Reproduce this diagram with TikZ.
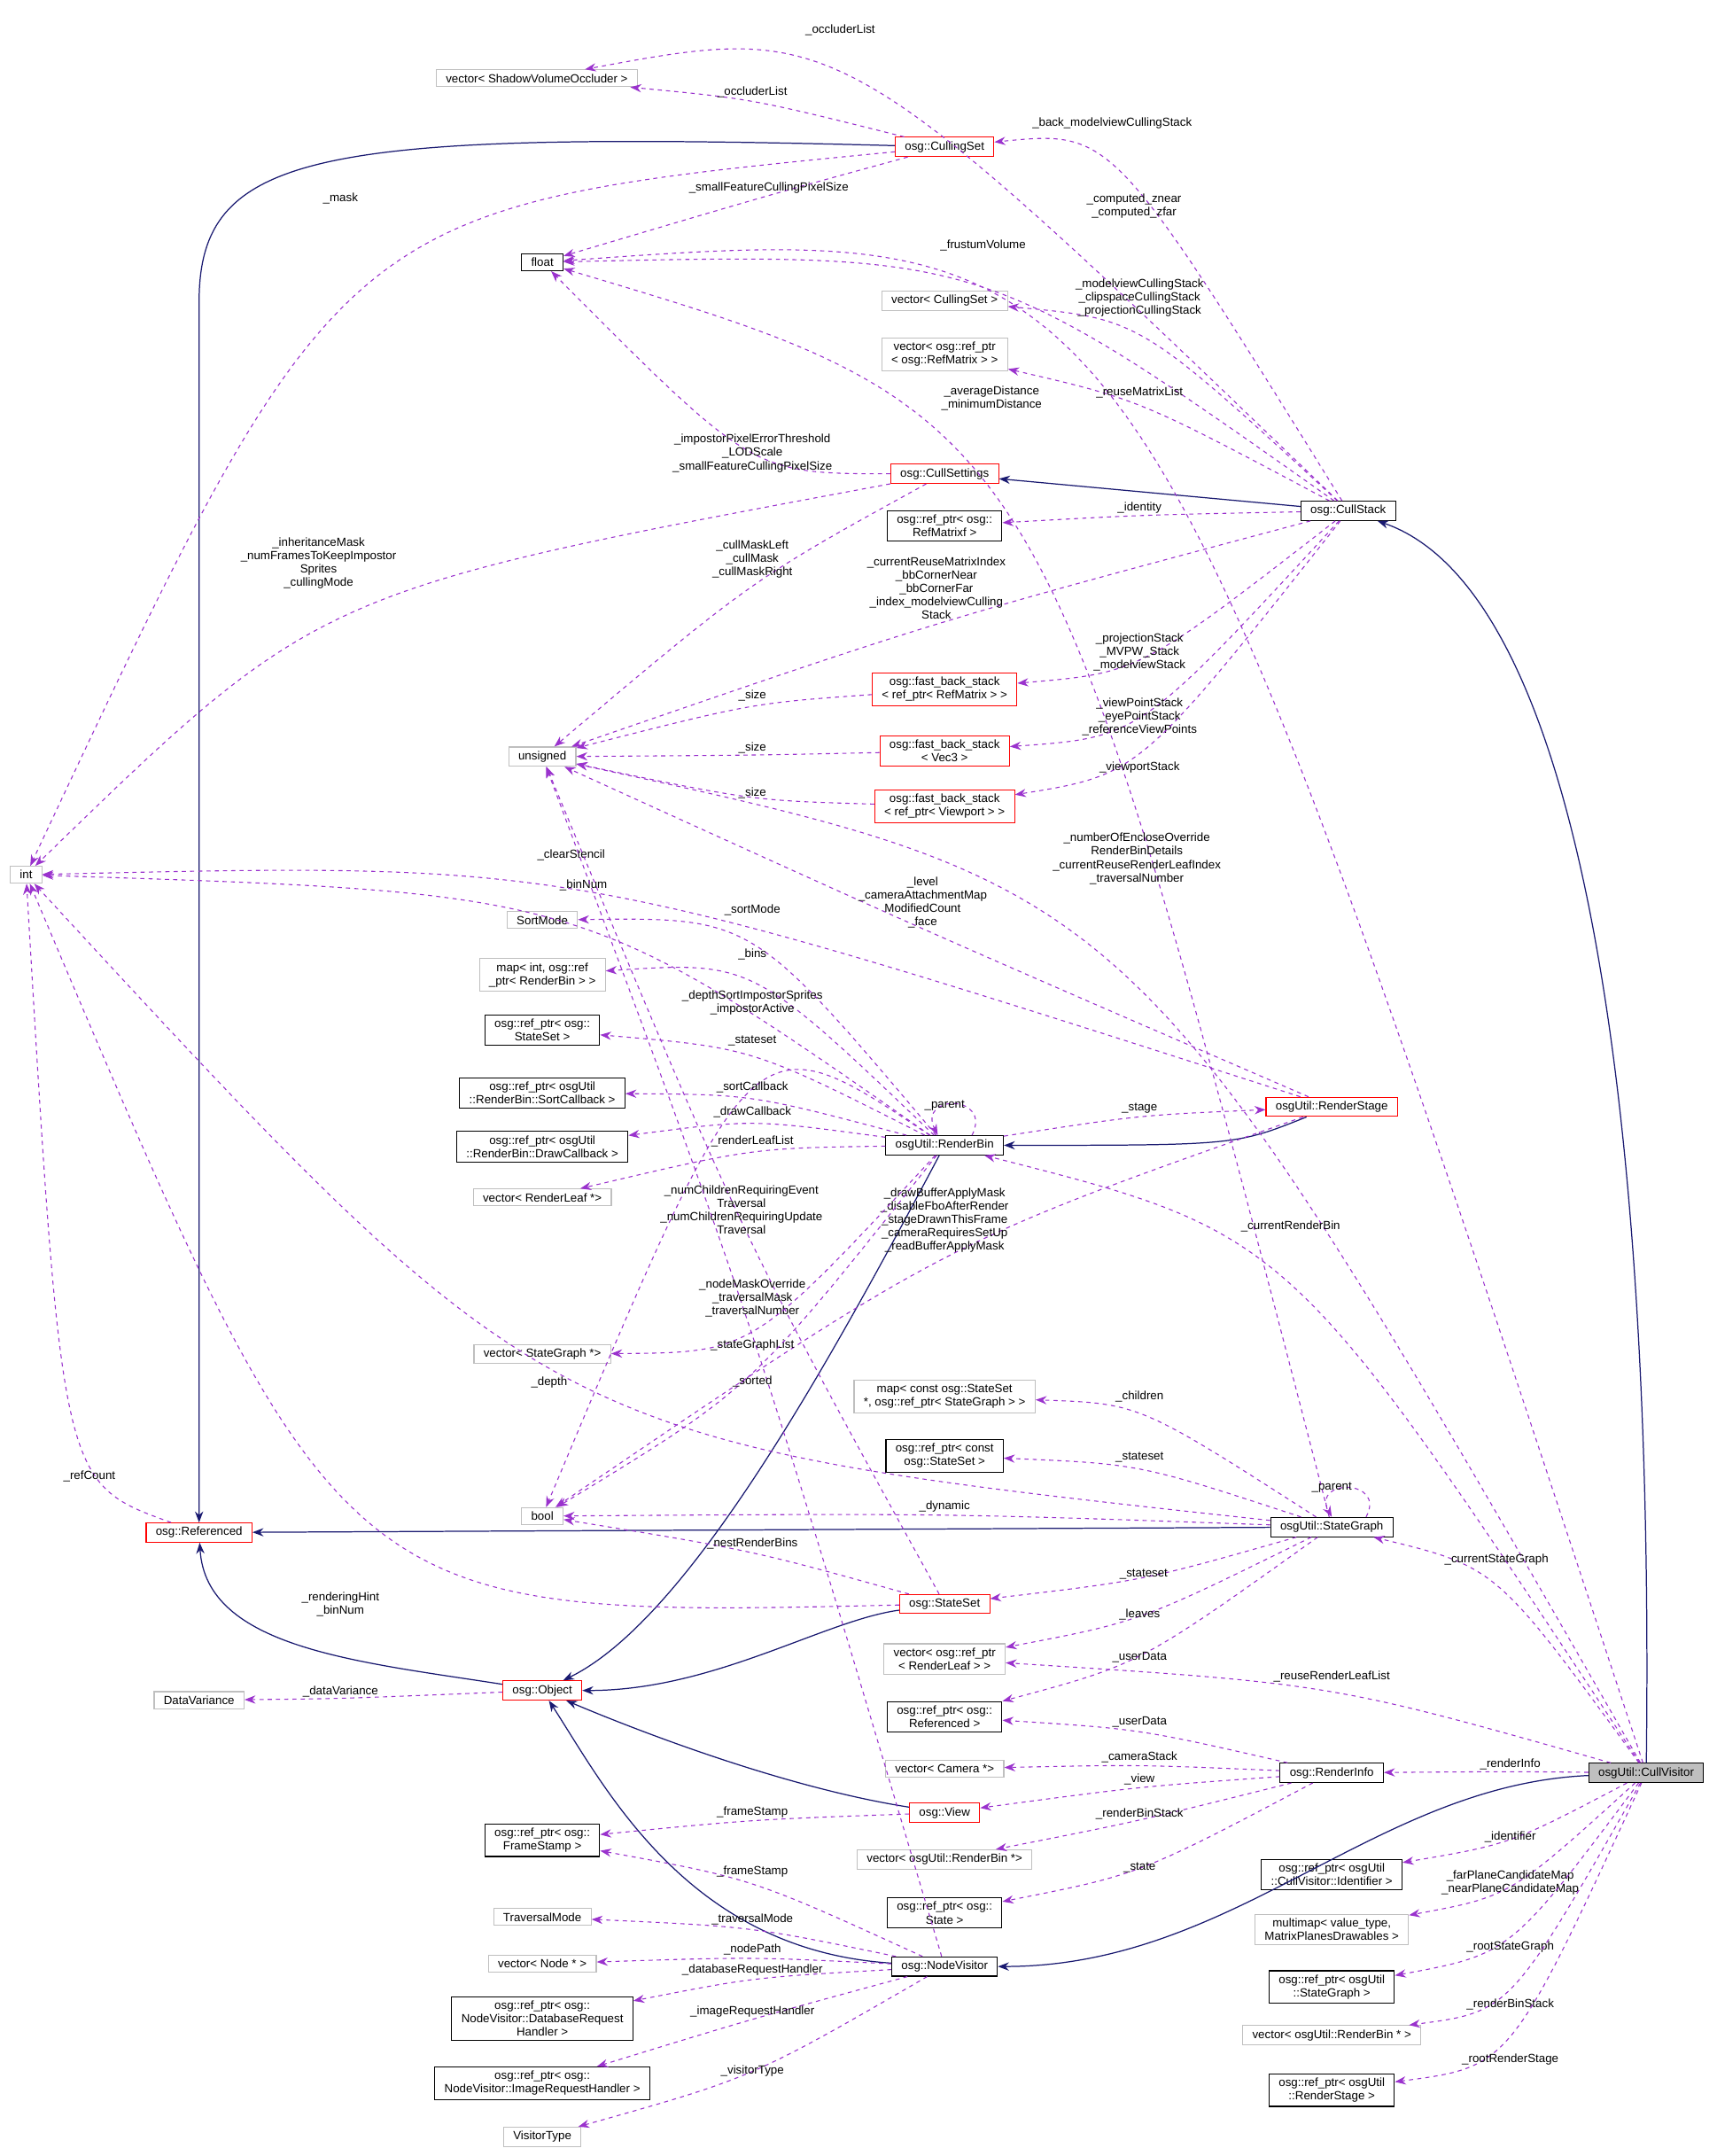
\documentclass[tikz,border=0pt]{standalone}
\usepackage{fontspec}
\setmainfont{Liberation Sans}
\usetikzlibrary{arrows.meta}
\definecolor{navy}{HTML}{191970}
\definecolor{usecol}{HTML}{9A32CD}
\tikzset{
  every node/.append style={font=\fontsize{8.6}{9.7}\selectfont},
  cls/.style={draw, line width=0.7pt, align=center, inner xsep=7pt, inner ysep=3pt},
  clsred/.style={cls, draw=red},
  clsgray/.style={cls, draw=gray!50},
  inh/.style={navy, line width=0.8pt, -{Stealth[length=8pt,width=6pt]}},
  dep/.style={usecol, dashed, line width=0.7pt, -{Stealth[length=8pt,width=6pt]}},
  lbl/.style={black, align=center, inner sep=1pt}
}
\newcommand{\dep}[5][]{%
  \draw[dep] (#2) .. controls (#4) and (#4) .. (#3);
  \node[lbl,anchor=south,#1] at (#4) {#5};}

\begin{document}
\begin{tikzpicture}[x=1pt,y=-1pt]
  \useasboundingbox (0,0) rectangle (1250,1570);

  % classes
  \node[clsgray] (svo) at (391,57) {vector< ShadowVolumeOccluder >};
  \node[clsred] (cset) at (688,107) {osg::CullingSet};
  \node[cls] (flt) at (395,191) {float};
  \node[clsgray] (veccs) at (688,219) {vector< CullingSet >};
  \node[clsgray] (vecrm) at (688,258) {vector< osg::ref\_ptr\\< osg::RefMatrix > >};
  \node[clsred] (csettings) at (688,345) {osg::CullSettings};
  \node[cls] (cstack) at (982,372) {osg::CullStack};
  \node[cls] (refmf) at (688,383) {osg::ref\_ptr< osg::\\RefMatrixf >};
  \node[clsred] (fbsrm) at (688,502) {osg::fast\_back\_stack\\< ref\_ptr< RefMatrix > >};
  \node[clsred] (fbsv3) at (688,547) {osg::fast\_back\_stack\\< Vec3 >};
  \node[clsred] (fbsvp) at (688,587) {osg::fast\_back\_stack\\< ref\_ptr< Viewport > >};
  \node[clsgray] (uns) at (395,551) {unsigned};
  \node[clsgray] (int) at (19,637) {int};
  \node[clsgray] (sortmode) at (395,670) {SortMode};
  \node[clsgray] (mapbins) at (395,710) {map< int, osg::ref\\\_ptr< RenderBin > >};
  \node[cls] (refss) at (395,750) {osg::ref\_ptr< osg::\\StateSet >};
  \node[cls] (refsortcb) at (395,796) {osg::ref\_ptr< osgUtil\\::RenderBin::SortCallback >};
  \node[cls] (refdrawcb) at (395,835) {osg::ref\_ptr< osgUtil\\::RenderBin::DrawCallback >};
  \node[clsgray] (vecrl) at (395,872) {vector< RenderLeaf *>};
  \node[cls] (rbin) at (688,834) {osgUtil::RenderBin};
  \node[clsred] (rstage) at (970,806) {osgUtil::RenderStage};
  \node[clsgray] (vecsg) at (395,986) {vector< StateGraph *>};
  \node[clsgray] (mapsg) at (688,1017) {map< const osg::StateSet\\ *, osg::ref\_ptr< StateGraph > >};
  \node[cls] (refcss) at (688,1060) {osg::ref\_ptr< const\\osg::StateSet >};
  \node[clsgray] (bool) at (395,1104) {bool};
  \node[cls] (sgraph) at (970,1112) {osgUtil::StateGraph};
  \node[clsred] (ref) at (145,1116) {osg::Referenced};
  \node[clsred] (sset) at (688,1168) {osg::StateSet};
  \node[clsgray] (vecrlp) at (688,1208) {vector< osg::ref\_ptr\\< RenderLeaf > >};
  \node[clsgray] (datavar) at (145,1238) {DataVariance};
  \node[clsred] (obj) at (395,1231) {osg::Object};
  \node[cls] (refref) at (688,1250) {osg::ref\_ptr< osg::\\Referenced >};
  \node[clsgray] (veccam) at (688,1288) {vector< Camera *>};
  \node[cls] (rinfo) at (970,1291) {osg::RenderInfo};
  \node[cls, fill=gray!50] (cv) at (1199,1291) {osgUtil::CullVisitor};
  \node[clsred] (view) at (688,1320) {osg::View};
  \node[cls] (reffs) at (395,1340) {osg::ref\_ptr< osg::\\FrameStamp >};
  \node[clsgray] (vecrbp) at (688,1354) {vector< osgUtil::RenderBin *>};
  \node[cls] (refstate) at (688,1393) {osg::ref\_ptr< osg::\\State >};
  \node[clsgray] (travmode) at (395,1396) {TraversalMode};
  \node[clsgray] (vecnode) at (395,1430) {vector< Node * >};
  \node[cls] (nv) at (688,1432) {osg::NodeVisitor};
  \node[cls] (refdrh) at (395,1470) {osg::ref\_ptr< osg::\\NodeVisitor::DatabaseRequest\\Handler >};
  \node[cls] (refirh) at (395,1517) {osg::ref\_ptr< osg::\\NodeVisitor::ImageRequestHandler >};
  \node[clsgray] (vistype) at (395,1556) {VisitorType};
  \node[cls] (refid) at (970,1365) {osg::ref\_ptr< osgUtil\\::CullVisitor::Identifier >};
  \node[clsgray] (mmap) at (970,1405) {multimap< value\_type,\\MatrixPlanesDrawables >};
  \node[cls] (refrootsg) at (970,1447) {osg::ref\_ptr< osgUtil\\::StateGraph >};
  \node[clsgray] (vecrbs) at (970,1482) {vector< osgUtil::RenderBin * >};
  \node[cls] (refrs) at (970,1522) {osg::ref\_ptr< osgUtil\\::RenderStage >};

  % inheritance
  \draw[inh] (cset) .. controls (230,95) and (145,110) .. (145,220) -- (ref);
  \draw[inh] (cstack) -- (csettings);
  \draw[inh] (cv) .. controls (1205,800) and (1150,430) .. (cstack);
  \draw[inh] (rstage) .. controls (900,834) .. (rbin);
  \draw[inh] (rbin) .. controls (600,1000) and (500,1180) .. (obj);
  \draw[inh] (sgraph) -- (ref);
  \draw[inh] (sset) .. controls (600,1180) and (520,1231) .. (obj);
  \draw[inh] (obj) .. controls (260,1210) and (150,1200) .. (ref);
  \draw[inh] (view) .. controls (560,1300) and (440,1250) .. (obj);
  \draw[inh] (nv) .. controls (500,1420) and (440,1300) .. (obj);
  \draw[inh] (cv) .. controls (1000,1300) and (900,1432) .. (nv);

  % usage
  \dep{cset}{svo}{548,72}{\_occluderList}
  \dep[anchor=north, yshift=-1pt]{cstack}{svo}{612,16}{\_occluderList}
  \dep{cset}{flt}{560,142}{\_smallFeatureCullingPixelSize}
  \dep{cset}{int}{248,150}{\_mask}
  \dep{cstack}{cset}{810,95}{\_back\_modelviewCullingStack}
  \dep{cv}{flt}{826,160}{\_computed\_znear\\\_computed\_zfar}
  \dep{cstack}{flt}{716,184}{\_frustumVolume}
  \dep{cstack}{veccs}{830,232}{\_modelviewCullingStack\\\_clipspaceCullingStack\\\_projectionCullingStack}
  \dep{cstack}{vecrm}{830,291}{\_reuseMatrixList}
  \dep[anchor=south east]{sgraph}{flt}{760,300}{\_averageDistance\\\_minimumDistance}
  \dep{csettings}{flt}{548,345}{\_impostorPixelErrorThreshold\\\_LODScale\\\_smallFeatureCullingPixelSize}
  \dep{csettings}{int}{232,430}{\_inheritanceMask\\\_numFramesToKeepImpostor\\Sprites\\\_cullingMode}
  \dep{csettings}{uns}{548,422}{\_cullMaskLeft\\\_cullMask\\\_cullMaskRight}
  \dep{cstack}{refmf}{830,375}{\_identity}
  \dep{cstack}{uns}{682,452}{\_currentReuseMatrixIndex\\\_bbCornerNear\\\_bbCornerFar\\\_index\_modelviewCulling\\Stack}
  \dep{cstack}{fbsrm}{830,490}{\_projectionStack\\\_MVPW\_Stack\\\_modelviewStack}
  \dep{cstack}{fbsv3}{830,537}{\_viewPointStack\\\_eyePointStack\\\_referenceViewPoints}
  \dep{cstack}{fbsvp}{830,564}{\_viewportStack}
  \dep{fbsrm}{uns}{548,512}{\_size}
  \dep{fbsv3}{uns}{548,550}{\_size}
  \dep{fbsvp}{uns}{548,583}{\_size}
  \dep{cv}{uns}{828,645}{\_numberOfEncloseOverride\\RenderBinDetails\\\_currentReuseRenderLeafIndex\\\_traversalNumber}
  \dep{rstage}{uns}{672,677}{\_level\\\_cameraAttachmentMap\\ModifiedCount\\\_face}
  \dep{rstage}{int}{416,628}{\_clearStencil}
  \dep{rbin}{int}{425,650}{\_binNum}
  \dep{rbin}{sortmode}{548,668}{\_sortMode}
  \dep{rbin}{mapbins}{548,700}{\_bins}
  \dep{rbin}{bool}{548,740}{\_depthSortImpostorSprites\\\_impostorActive}
  \dep{rbin}{refss}{548,763}{\_stateset}
  \draw[dep] ([xshift=20pt]rbin.north) .. controls +(15,-30) and +(-15,-30) .. ([xshift=-5pt]rbin.north);
  \node[lbl] at (688,805) {\_parent};
  \dep{rbin}{rstage}{830,812}{\_stage}
  \dep{rbin}{refsortcb}{548,797}{\_sortCallback}
  \dep{rbin}{refdrawcb}{548,815}{\_drawCallback}
  \dep{rbin}{vecrl}{548,836}{\_renderLeafList}
  \dep[yshift=-8pt]{rstage}{bool}{688,905}{\_drawBufferApplyMask\\\_disableFboAfterRender\\\_stageDrawnThisFrame\\\_cameraRequiresSetUp\\\_readBufferApplyMask}
  \dep{cv}{rbin}{940,898}{\_currentRenderBin}
  \dep{sset}{uns}{540,900}{\_numChildrenRequiringEvent\\Traversal\\\_numChildrenRequiringUpdate\\Traversal}
  \dep{nv}{uns}{548,960}{\_nodeMaskOverride\\\_traversalMask\\\_traversalNumber}
  \dep{rbin}{vecsg}{548,985}{\_stateGraphList}
  \dep{rbin}{bool}{548,1011}{\_sorted}
  \dep[yshift=38pt]{sgraph}{int}{400,1050}{\_depth}
  \dep{sgraph}{mapsg}{830,1022}{\_children}
  \dep{sgraph}{refcss}{830,1066}{\_stateset}
  \draw[dep] ([xshift=25pt]sgraph.north) .. controls +(15,-28) and +(-15,-28) .. (sgraph.north);
  \node[lbl] at (970,1083) {\_parent};
  \dep{sgraph}{bool}{688,1102}{\_dynamic}
  \dep{sset}{bool}{548,1129}{\_nestRenderBins}
  \dep[anchor=south west]{ref}{int}{45,1080}{\_refCount}
  \dep{sset}{int}{248,1178}{\_renderingHint\\\_binNum}
  \dep{sgraph}{sset}{833,1151}{\_stateset}
  \dep{sgraph}{vecrlp}{830,1181}{\_leaves}
  \dep{cv}{vecrlp}{970,1226}{\_reuseRenderLeafList}
  \dep{sgraph}{refref}{830,1212}{\_userData}
  \dep{rinfo}{refref}{830,1259}{\_userData}
  \dep{obj}{datavar}{248,1237}{\_dataVariance}
  \dep{rinfo}{veccam}{830,1285}{\_cameraStack}
  \dep{rinfo}{view}{830,1301}{\_view}
  \dep{view}{reffs}{548,1325}{\_frameStamp}
  \dep{rinfo}{vecrbp}{830,1326}{\_renderBinStack}
  \dep{rinfo}{refstate}{830,1365}{\_state}
  \dep{cv}{rinfo}{1100,1290}{\_renderInfo}
  \dep{cv}{sgraph}{1090,1141}{\_currentStateGraph}
  \dep{nv}{reffs}{548,1368}{\_frameStamp}
  \dep{nv}{travmode}{548,1403}{\_traversalMode}
  \dep{nv}{vecnode}{548,1425}{\_nodePath}
  \dep{nv}{refdrh}{548,1440}{\_databaseRequestHandler}
  \dep{nv}{refirh}{548,1470}{\_imageRequestHandler}
  \dep{nv}{vistype}{548,1513}{\_visitorType}
  \dep{cv}{refid}{1100,1343}{\_identifier}
  \dep{cv}{mmap}{1100,1381}{\_farPlaneCandidateMap\\\_nearPlaneCandidateMap}
  \dep{cv}{refrootsg}{1100,1423}{\_rootStateGraph}
  \dep{cv}{vecrbs}{1100,1465}{\_renderBinStack}
  \dep{cv}{refrs}{1100,1505}{\_rootRenderStage}
\end{tikzpicture}
\end{document}
